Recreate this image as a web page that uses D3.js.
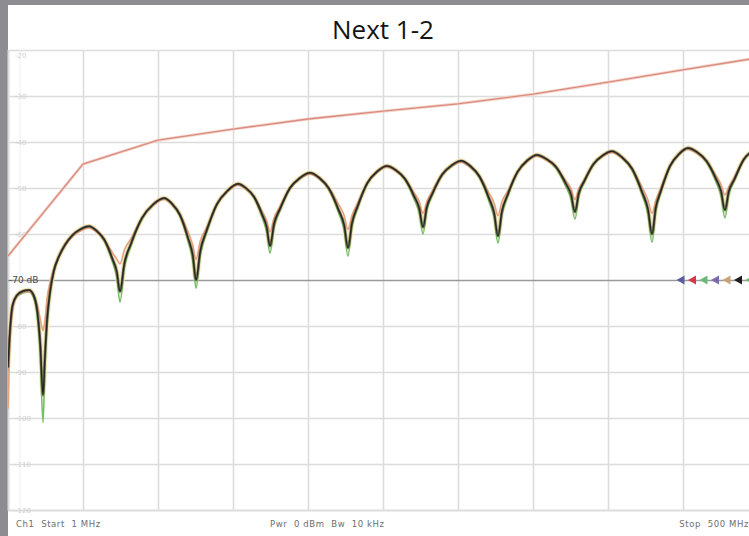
<!DOCTYPE html>
<html>
<head>
<meta charset="utf-8">
<script src="https://cdn.jsdelivr.net/npm/d3@7"></script>
<style>
  html, body { margin: 0; padding: 0; background: #ffffff; }
  svg { display: block; }
  .ft text { white-space: pre; }
</style>
</head>
<body>
<script>
// ---------------- DATA ----------------
const title = "Next 1-2";
const yTicks = [-20, -30, -40, -50, -60, -70, -80, -90, -100, -110, -120];
const yTickLabels = ["-20", "-30", "-40", "-50", "-60", "-70 dB", "-80", "-90", "-100", "-110", "-120"];
const refLevel = -70;
const footerLabels = ["Ch1  Start  1 MHz", "Pwr  0 dBm  Bw  10 kHz", "Stop  500 MHz"];
const markerColors = ["#5b5c9c", "#d2384a", "#6cb87a", "#7a6aaa", "#c9a27a", "#1e1e1e", "#62c062"];

// frequency in MHz
const freq = [1,2,4,7,11,15,18,20.5,22.5,24.3,
  25.5,27,29,31.5,35,39,44,49,54.9,60,65.2,70.4,73.4,75.5,
  78.4,82.8,90.2,97.5,104.8,110.1,115.5,120.8,124,126.1,
  128.9,133.1,140,147,154,159.3,164.7,170,173.2,175.3,
  178,182,188.6,195.2,201.9,208.2,214.5,220.9,224.7,227.2,
  229.8,233.7,240.1,246.6,253.1,259.1,265.1,271.1,274.7,277.1,
  279.6,283.4,289.8,296.1,302.4,308.5,314.7,320.9,324.5,327,
  329.6,333.5,340,346.5,353,359.3,365.6,371.9,375.7,378.2,
  380.7,384.4,390.5,396.7,402.8,409.5,416.2,422.8,426.8,429.5,
  431.9,435.5,441.5,447.4,453.4,459.5,465.7,471.9,475.5,478,
  480.5,484.3,490.5,496.8,500];

// pair traces (dB)
const pairBlack = [-89,-82.6,-75.5,-73.3,-72.4,-72.2,-73.3,-76.8,-84,-95,
  -87,-78.5,-72.5,-68,-64.8,-62.3,-60.2,-59,-58.3,-59.3,-61.3,-65.3,-68.2,-72.5,
  -66.4,-62.1,-56.5,-53.6,-52.2,-53.4,-55.9,-60.9,-64.7,-70,
  -63.7,-59.3,-53.5,-50.6,-49.1,-50.0,-51.9,-55.7,-58.6,-62.6,
  -57.8,-54.5,-50.0,-47.8,-46.7,-47.8,-50.1,-54.7,-58.1,-63,
  -57.7,-53.9,-48.9,-46.4,-45.2,-46.1,-48.0,-51.7,-54.5,-58.5,
  -54.2,-51.2,-47.1,-45.1,-44.1,-45.2,-47.5,-52.1,-55.5,-60.4,
  -55.1,-51.4,-46.5,-44.0,-42.8,-43.7,-45.4,-48.9,-51.5,-55.2,
  -51.2,-48.5,-44.8,-42.9,-42.0,-43.3,-45.8,-50.8,-54.6,-60,
  -54.4,-50.5,-45.2,-42.6,-41.3,-42.2,-44.1,-47.9,-50.8,-54.8,
  -50.8,-48.1,-43.8,-41.9,-41.5];

const pairGreen = [-90,-83,-76,-73.6,-72.8,-72.6,-73.8,-78,-87,-101,
  -90,-80,-73,-68.3,-65,-62.5,-60.4,-59.2,-58.5,-59.5,-61.6,-66,-69.5,-74.8,
  -67.5,-62.6,-56.7,-53.8,-52.4,-53.6,-56.2,-61.5,-66,-71.8,
  -64.8,-59.7,-53.7,-50.8,-49.3,-50.2,-52.2,-56.3,-59.7,-64.2,
  -58.7,-54.9,-50.2,-48,-46.9,-48,-50.4,-55.3,-59.3,-64.8,
  -58.6,-54.3,-49.1,-46.6,-45.4,-46.3,-48.3,-52.3,-55.6,-60,
  -55,-51.5,-47.3,-45.3,-44.3,-45.4,-47.8,-52.7,-56.6,-62,
  -56,-51.8,-46.7,-44.2,-43,-43.9,-45.7,-49.5,-52.6,-56.8,
  -52,-48.8,-45,-43.1,-42.2,-43.5,-46.1,-51.4,-55.8,-61.8,
  -55.4,-50.9,-45.4,-42.8,-41.5,-42.4,-44.4,-48.5,-51.9,-56.5,
  -51.6,-48.4,-44,-42.1,-41.7];

const pairOrange = [-98,-86,-77,-73.5,-72.6,-72.6,-73.2,-75.5,-78.5,-81,
  -79,-74,-70.5,-67.5,-64.8,-62.6,-60.5,-59.4,-58.7,-59.6,-61.4,-64,-65.5,-66.5,
  -63.5,-61,-56.5,-53.8,-52.5,-53.6,-55.8,-59.5,-62.5,-65.5,
  -61.5,-58.6,-53.5,-50.8,-49.4,-50.3,-51.9,-55,-57.2,-59.5,
  -56.5,-54,-50,-48,-47,-48,-50,-53.5,-56,-59,
  -56,-53.2,-48.9,-46.6,-45.5,-46.4,-48,-51,-53,-55.5,
  -53,-50.6,-47,-45.3,-44.4,-45.5,-47.4,-51,-53.3,-56,
  -53,-50.7,-46.5,-44.2,-43.1,-44,-45.5,-48.3,-50.2,-52.5,
  -50.2,-48.2,-44.8,-43.1,-42.3,-43.5,-45.7,-49.8,-52.6,-55.5,
  -52.8,-49.8,-45.2,-42.8,-41.6,-42.5,-44.2,-47.2,-49.3,-51.5,
  -49.8,-47.6,-43.8,-42.1,-41.8];

// limit line
const limitFreq = [1, 50.9, 100.8, 150.7, 200.6, 250.5, 300.4, 350.3, 400.2, 450.1, 500];
const limitDb   = [-64.8, -44.8, -39.6, -37.2, -35.0, -33.3, -31.7, -29.6, -27.0, -24.3, -21.7];

// ---------------- CHART ----------------
const W = 749, H = 536;
const plot = { left: 8, right: 758, top: 50, bottom: 510 };
const xDivisions = 10;

const svg = d3.select("body").append("svg").attr("width", W).attr("height", H);

// background frame
svg.append("rect").attr("x", 0).attr("y", 0).attr("width", W).attr("height", H).attr("fill", "#ffffff");
svg.append("rect").attr("x", 0).attr("y", 0).attr("width", W).attr("height", 5).attr("fill", "#8d8d91");
svg.append("rect").attr("x", 0).attr("y", 0).attr("width", 8).attr("height", H).attr("fill", "#8d8d91");

const x = d3.scaleLinear().domain([1, 500]).range([plot.left, plot.right]);
const y = d3.scaleLinear().domain([-120, -20]).range([plot.bottom, plot.top]);

// title
svg.append("text")
  .attr("x", 383).attr("y", 39)
  .attr("text-anchor", "middle")
  .attr("font-family", "'Open Sans', 'Noto Sans', sans-serif")
  .attr("font-size", 26)
  .attr("fill", "#141414")
  .text(title);

// grid via axes
const xGridVals = d3.range(xDivisions + 1).map(i => x.invert(plot.left + i * (plot.right - plot.left) / xDivisions));
const gx = svg.append("g")
  .attr("transform", `translate(0,${plot.bottom})`)
  .call(d3.axisBottom(x).tickValues(xGridVals).tickSize(-(plot.bottom - plot.top)).tickFormat(""));
gx.select(".domain").attr("stroke", "#d6d6d6").attr("stroke-width", 1.6);
gx.selectAll(".tick line").attr("stroke", "#dcdcdc").attr("stroke-width", 1.6);

const gy = svg.append("g")
  .attr("transform", `translate(${plot.left},0)`)
  .call(d3.axisLeft(y).tickValues(yTicks).tickSize(-(plot.right - plot.left)).tickFormat(""));
gy.select(".domain").remove();
gy.selectAll(".tick line")
  .attr("stroke", d => d === refLevel ? "#9a9a9a" : "#dcdcdc")
  .attr("stroke-width", d => d === refLevel ? 1.4 : 1.6);

// faint label column line
svg.append("line").attr("x1", 20).attr("x2", 20).attr("y1", plot.top).attr("y2", plot.bottom)
  .attr("stroke", "#f0f0f0").attr("stroke-width", 1);

// y labels
svg.append("g").selectAll("text").data(yTicks).join("text")
  .attr("x", (d) => d === refLevel ? 9 : 15)
  .attr("y", (d, i) => i === 0 ? y(d) + 8 : y(d) + 3)
  .attr("font-family", "'DejaVu Sans', sans-serif")
  .attr("font-size", d => d === refLevel ? 9 : 7)
  .attr("fill", d => d === refLevel ? "#4a4a4a" : "#d2d2d2")
  .text((d, i) => yTickLabels[i]);

// traces
svg.append("clipPath").attr("id", "pc").append("rect")
  .attr("x", plot.left).attr("y", plot.top - 2).attr("width", W - plot.left).attr("height", plot.bottom - plot.top + 4);

const line = d3.line().x(d => x(d[0])).y(d => y(d[1])).curve(d3.curveMonotoneX);
const g = svg.append("g").attr("clip-path", "url(#pc)");

// limit line
const limitPts = limitFreq.map((f, i) => [f, limitDb[i]]);
const limitLine = d3.line().x(d => x(d[0])).y(d => y(d[1]));
g.append("path").datum(limitPts).attr("d", limitLine)
  .attr("fill", "none").attr("stroke", "#f5d3c6").attr("stroke-width", 3);
g.append("path").datum(limitPts).attr("d", limitLine)
  .attr("fill", "none").attr("stroke", "#d98c82").attr("stroke-width", 1.3);

const blackPts = freq.map((f, i) => [f, pairBlack[i]]);
const greenPts = freq.map((f, i) => [f, pairGreen[i]]);
const orangePts = freq.map((f, i) => [f, pairOrange[i]]);

g.append("path").datum(blackPts).attr("d", line)
  .attr("fill", "none").attr("stroke", "#f1e6b0").attr("stroke-width", 5).attr("opacity", 0.85);
g.append("path").datum(greenPts).attr("d", line)
  .attr("fill", "none").attr("stroke", "#78bd68").attr("stroke-width", 1.6);
g.append("path").datum(orangePts).attr("d", line)
  .attr("fill", "none").attr("stroke", "#e6a27c").attr("stroke-width", 1.6);
g.append("path").datum(blackPts).attr("d", line)
  .attr("fill", "none").attr("stroke", "#5a4a38").attr("stroke-width", 2.8).attr("opacity", 0.6);
g.append("path").datum(blackPts).attr("d", line)
  .attr("fill", "none").attr("stroke", "#262626").attr("stroke-width", 1.5);

// reference markers at -70 dB
const mk = svg.append("g");
markerColors.forEach((c, i) => {
  const cx = x(500) - 77 + i * 11.5;
  const cy = y(refLevel);
  mk.append("path")
    .attr("d", `M${cx - 4.5},${cy} L${cx + 3.5},${cy - 4.5} L${cx + 3.5},${cy + 4.5} Z`)
    .attr("fill", c);
});

// footer
const ft = svg.append("g").attr("class", "ft")
  .attr("font-family", "'DejaVu Sans', sans-serif")
  .attr("font-size", 8.5)
  .attr("letter-spacing", 0.6)
  .attr("fill", "#6e6e6e");
ft.append("text").attr("x", 16).attr("y", 527).text(footerLabels[0]);
ft.append("text").attr("x", 270).attr("y", 527).text(footerLabels[1]);
ft.append("text").attr("x", 749).attr("y", 527).attr("text-anchor", "end").text(footerLabels[2]);
</script>
</body>
</html>
